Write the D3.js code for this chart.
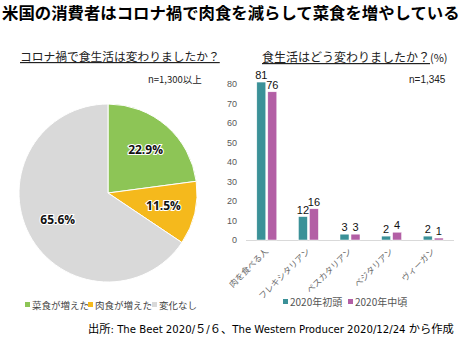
<!DOCTYPE html>
<html><head><meta charset="utf-8">
<script src="https://cdn.jsdelivr.net/npm/d3@7"></script>
<style>
body{margin:0;background:#fff;}
svg{display:block;}
</style></head>
<body>
<svg id="c" width="465" height="344"></svg>
<script>
const pieLabels = ["菜食が増えた","肉食が増えた","変化なし"];
const pieValues = [22.9, 11.5, 65.6];
const pieColors = ["#8dc556","#f5b91c","#d9d9d9"];

const categories = ["肉を食べる人","フレキシタリアン","ペスカタリアン","ベジタリアン","ヴィーガン"];
const seriesNames = ["2020年初頭","2020年中頃"];
const early = [81, 12, 3, 2, 2];
const mid = [76, 16, 3, 4, 1];
const seriesColors = ["#3b9198","#b35fa5"];
const yTicks = [0,10,20,30,40,50,60,70,80];

const JP = "'Noto Sans CJK JP','Noto Sans',sans-serif";
const svg = d3.select("#c");

function fitWidth(sel, target){
  const n = sel.node();
  const fs = parseFloat(sel.attr("font-size"));
  const w = n.getComputedTextLength();
  if (w > 0) sel.attr("font-size", (fs*target/w).toFixed(2));
}

// Title
const title = svg.append("text").attr("x",2).attr("y",19)
  .attr("font-family",JP).attr("font-weight","bold").attr("font-size",17.5)
  .attr("fill","#000")
  .text("米国の消費者はコロナ禍で肉食を減らして菜食を増やしている");
fitWidth(title, 458);

// Left subtitle
const st = svg.append("text").attr("x",20).attr("y",61)
  .attr("font-family",JP).attr("font-size",12).attr("fill","#222")
  .attr("text-decoration","underline")
  .text("コロナ禍で食生活は変わりましたか？");
fitWidth(st, 200);
svg.append("text").attr("x",148).attr("y",83)
  .attr("font-family",JP).attr("font-size",9.5).attr("fill","#222")
  .text("n=1,300以上");

// Pie
const cx = 108, cy = 193, R = 89;
const pie = d3.pie().sort(null).value(d=>d)(pieValues);
const arc = d3.arc().innerRadius(0).outerRadius(R);
const g = svg.append("g").attr("transform",`translate(${cx},${cy})`);
g.selectAll("path").data(pie).join("path")
  .attr("d",arc).attr("fill",(d,i)=>pieColors[i])
  .attr("stroke","#fff").attr("stroke-width",1);
const labelArc = d3.arc().innerRadius(R*0.64).outerRadius(R*0.64);
g.selectAll("text.pl").data(pie).join("text").attr("class","pl")
  .attr("transform",d=>`translate(${labelArc.centroid(d)})`)
  .attr("text-anchor","middle").attr("dy","0.35em")
  .attr("font-family","'Open Sans','Noto Sans',sans-serif").attr("font-weight","bold")
  .attr("font-size",12).attr("fill","#111")
  .attr("stroke","#fff").attr("stroke-width",2.2).attr("paint-order","stroke")
  .text(d=>d.data.toFixed(1)+"%");

// Pie legend
const pl = svg.append("g").attr("font-family",JP).attr("font-size",9.5).attr("fill","#444");
const plx = [25, 88, 152];
pieLabels.forEach((t,i)=>{
  pl.append("rect").attr("x",plx[i]).attr("y",302).attr("width",5).attr("height",5).attr("fill",pieColors[i]);
  pl.append("text").attr("x",plx[i]+7).attr("y",308.5).text(t);
});

// Bar chart
svg.append("text").attr("x",262).attr("y",62)
  .attr("font-family",JP).attr("font-size",12).attr("fill","#222")
  .call(t=>{
    t.append("tspan").attr("text-decoration","underline").text("食生活はどう変わりましたか？");
    t.append("tspan").attr("font-size",11).text("(%)");
  });
svg.append("text").attr("x",409).attr("y",83)
  .attr("font-family","'Liberation Sans',Arial,sans-serif").attr("font-size",10).attr("fill","#222")
  .text("n=1,345");

const x0 = d3.scaleBand().domain(categories).range([246,454]).paddingInner(0).paddingOuter(0);
const y = d3.scaleLinear().domain([0,80]).range([240,84]);
const bw = 9, gap = 2;

const yAxis = d3.axisLeft(y).tickValues(yTicks).tickSize(0).tickPadding(0);
const ya = svg.append("g").attr("transform","translate(237,0)").call(yAxis);
ya.select(".domain").remove();
ya.selectAll("text").attr("font-family","'Liberation Sans',Arial,sans-serif").attr("font-size",9).attr("fill","#595959");

svg.append("line").attr("x1",246).attr("x2",454).attr("y1",y(0)+0.5).attr("y2",y(0)+0.5)
  .attr("stroke","#d9d9d9").attr("stroke-width",1);

const series = [early, mid];
series.forEach((vals,s)=>{
  const gs = svg.append("g");
  gs.selectAll("rect").data(vals).join("rect")
    .attr("x",(d,i)=>x0(categories[i]) + x0.bandwidth()/2 - bw - gap/2 + s*(bw+gap))
    .attr("y",d=>y(d)).attr("width",bw).attr("height",d=>y(0)-y(d))
    .attr("fill",seriesColors[s]).attr("stroke","#fff").attr("stroke-width",0.5);
  gs.selectAll("text").data(vals).join("text")
    .attr("x",(d,i)=>x0(categories[i]) + x0.bandwidth()/2 - bw/2 - gap/2 + s*(bw+gap))
    .attr("y",d=>y(d)-3)
    .attr("text-anchor","middle")
    .attr("font-family","'Liberation Sans',Arial,sans-serif").attr("font-size",11).attr("fill","#111")
    .text(d=>d);
});

// Category labels
svg.append("g").selectAll("text").data(categories).join("text")
  .attr("transform",c=>`translate(${x0(c)+x0.bandwidth()/2+2},${y(0)+12}) rotate(-45)`)
  .attr("text-anchor","end")
  .attr("font-family",JP).attr("font-size",8.5).attr("fill","#6a6a6a")
  .text(c=>c);

// Bar legend
const bl = svg.append("g").attr("font-family",JP).attr("font-size",10).attr("fill","#555");
const blx = [283, 348];
seriesNames.forEach((t,i)=>{
  bl.append("rect").attr("x",blx[i]).attr("y",299).attr("width",5).attr("height",5).attr("fill",seriesColors[i]);
  bl.append("text").attr("x",blx[i]+7).attr("y",306).text(t);
});

// Source
const src = svg.append("text").attr("x",88).attr("y",333)
  .attr("font-family","'Liberation Sans Narrow','DejaVu Sans Condensed',"+JP).attr("font-size",13)
  .attr("fill","#000")
  .text("出所: The Beet 2020/５/６、The Western Producer 2020/12/24 から作成");
fitWidth(src, 366);
</script>
</body></html>
